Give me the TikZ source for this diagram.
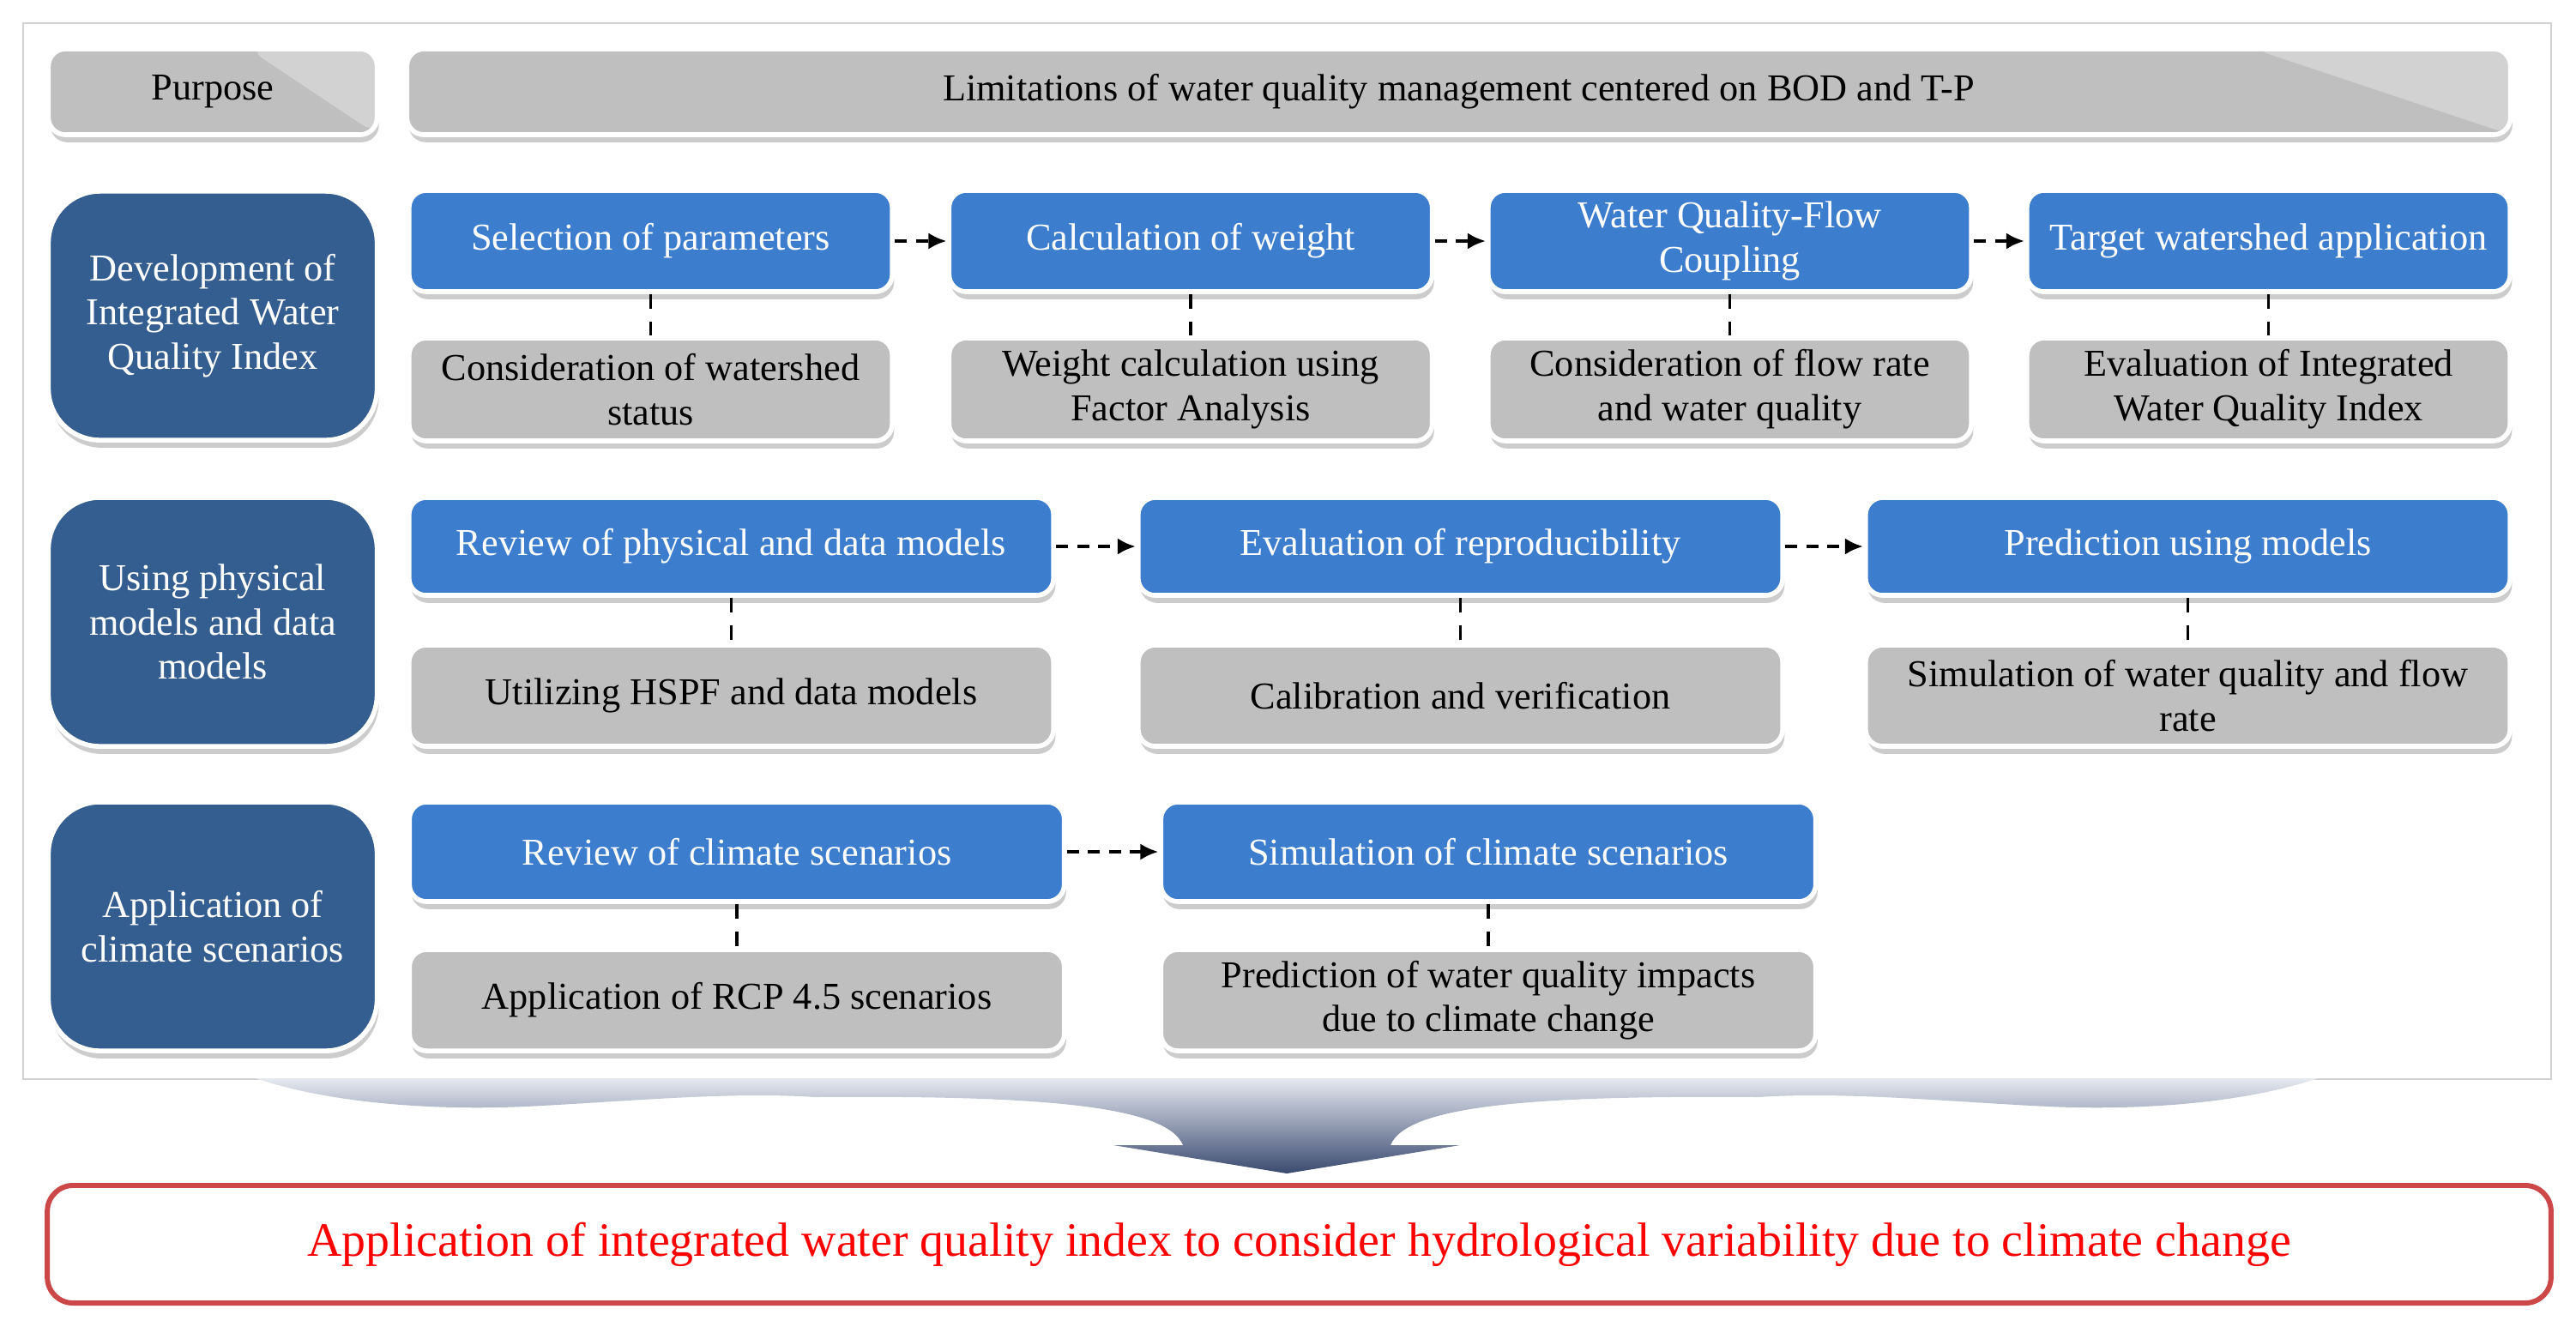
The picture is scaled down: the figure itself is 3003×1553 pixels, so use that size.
\documentclass[tikz,border=0pt]{standalone}
\usepackage{fontspec}
\setmainfont{Liberation Serif}
\usetikzlibrary{arrows.meta,shadows}
\definecolor{bluebox}{HTML}{3C7DCE}
\definecolor{navybox}{HTML}{355E90}
\definecolor{graybox}{HTML}{BFBFBF}
\definecolor{redline}{HTML}{CC4848}
\definecolor{arrowtop}{HTML}{E6E9F0}
\definecolor{arrowbot}{HTML}{3A4A70}
\tikzset{
  box/.style={rounded corners=0.2cm, draw=white, line width=1.6pt, align=center,
    inner sep=2pt, font=\fontsize{12.6}{14.7}\selectfont,
    drop shadow={shadow xshift=0.6pt, shadow yshift=-2.5pt, opacity=0.4}},
  procbox/.style={box, fill=bluebox, text=white},
  infobox/.style={box, fill=graybox, text=black},
  headbox/.style={box, rounded corners=0.6cm, fill=navybox, text=white,
    minimum width=3.83cm, minimum height=2.9cm},
  shine/.style={path picture={\fill[white, fill opacity=0.3]
    (path picture bounding box.north east) -- ++(-#1,0pt)
    -- (path picture bounding box.south east) -- cycle;}},
  flow/.style={line width=1.3pt, dash pattern=on 4pt off 3pt, -{Latex[length=6pt,width=5.5pt]}},
  link/.style={line width=1pt, dash pattern=on 5pt off 4pt},
  goalbox/.style={draw=redline, line width=1.7pt, rounded corners=0.3cm, fill=white,
    text=red, font=\fontsize{15.9}{19}\selectfont,
    minimum width=29.17cm, minimum height=1.37cm}
}
\begin{document}
\begin{tikzpicture}[x=0.01cm, y=-0.01cm]
    \useasboundingbox (0,0) rectangle (3003,1553);
    \draw[gray!35, fill=white] (27,27) rectangle (2974,1258);

    % Purpose
    \node[infobox, shine=1.5cm, minimum width=3.83cm, minimum height=1cm] (purp) at (248,107) {Purpose};
    \node[infobox, shine=3cm, minimum width=24.51cm, minimum height=1cm] (lim) at (1700.5,107)
        {Limitations of water quality management centered on BOD and T-P};

    % Row headers
    \node[headbox] (h1) at (248,368) {Development of\\Integrated Water\\Quality Index};
    \node[headbox] (h2) at (248,725) {Using physical\\models and data\\models};
    \node[headbox] (h3) at (248,1080) {Application of\\climate scenarios};

    % Row 1
    \tikzset{every node/.append style={minimum width=5.63cm}}
    \node[procbox, minimum height=1.18cm] (p11) at (758.5,281) {Selection of parameters};
    \node[procbox, minimum height=1.18cm] (p12) at (1388,281) {Calculation of weight};
    \node[procbox, minimum height=1.18cm] (p13) at (2016.5,281) {Water Quality-Flow\\Coupling};
    \node[procbox, minimum height=1.18cm] (p14) at (2644.5,281) {Target watershed application};
    \node[infobox, minimum height=1.2cm] (d11) at (758.5,454) {Consideration of watershed\\status};
    \node[infobox, minimum height=1.2cm] (d12) at (1388,454) {Weight calculation using\\Factor Analysis};
    \node[infobox, minimum height=1.2cm] (d13) at (2016.5,454) {Consideration of flow rate\\and water quality};
    \node[infobox, minimum height=1.2cm] (d14) at (2644.5,454) {Evaluation of Integrated\\Water Quality Index};

    % Row 2
    \tikzset{every node/.append style={minimum width=7.51cm}}
    \node[procbox, minimum height=1.14cm] (p21) at (852.5,637) {Review of physical and data models};
    \node[procbox, minimum height=1.14cm] (p22) at (1702.5,637) {Evaluation of reproducibility};
    \node[procbox, minimum height=1.14cm] (p23) at (2550.5,637) {Prediction using models};
    \node[infobox, minimum height=1.18cm] (d21) at (852.5,811) {Utilizing HSPF and data models};
    \node[infobox, minimum height=1.18cm] (d22) at (1702.5,811) {Calibration and verification};
    \node[infobox, minimum height=1.18cm] (d23) at (2550.5,811) {Simulation of water quality and flow\\rate};

    % Row 3
    \tikzset{every node/.append style={minimum width=7.63cm}}
    \node[procbox, minimum height=1.16cm] (p31) at (859,993) {Review of climate scenarios};
    \node[procbox, minimum height=1.16cm] (p32) at (1735,993) {Simulation of climate scenarios};
    \node[infobox, minimum height=1.18cm] (d31) at (859,1166) {Application of RCP 4.5 scenarios};
    \node[infobox, minimum height=1.18cm] (d32) at (1735,1166) {Prediction of water quality impacts\\due to climate change};

    \foreach \a/\b in {p11/d11, p12/d12, p13/d13, p14/d14, p21/d21, p22/d22, p23/d23, p31/d31, p32/d32}
        \draw[link] (\a) -- (\b);
    \foreach \a/\b in {p11/p12, p12/p13, p13/p14, p21/p22, p22/p23, p31/p32}
        \draw[flow] (\a) -- (\b);

    % Big arrow
    \shade[top color=arrowtop, bottom color=arrowbot]
        (298,1257) -- (2702,1257)
        .. controls (2620,1285) and (2500,1295) .. (2389,1290)
        .. controls (2280,1285) and (2150,1272) .. (2050,1279)
        .. controls (1800,1277) and (1640,1287) .. (1621,1335)
        -- (1702,1335) -- (1500,1368) -- (1298,1335) -- (1379,1335)
        .. controls (1360,1287) and (1200,1277) .. (950,1279)
        .. controls (850,1272) and (720,1285) .. (611,1290)
        .. controls (500,1295) and (380,1285) .. (298,1257) -- cycle;

    % Goal
    \node[goalbox] (goal) at (1514.5,1450.5)
        {Application of integrated water quality index to consider hydrological variability due to climate change};
\end{tikzpicture}
\end{document}
